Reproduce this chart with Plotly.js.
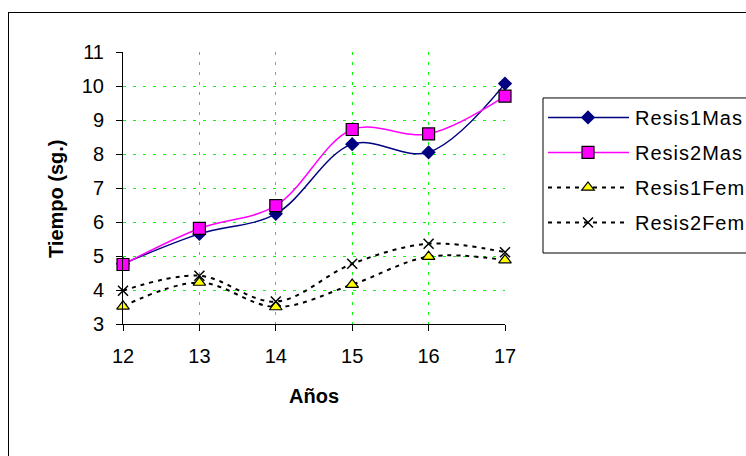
<!DOCTYPE html>
<html>
<head>
<meta charset="utf-8">
<script src="https://cdn.plot.ly/plotly-3.0.1.min.js"></script>
<style>
html,body{margin:0;padding:0;background:#fff;overflow:hidden;}
#frame{position:absolute;left:8px;top:12px;width:800px;height:600px;border:1px solid #000;box-sizing:border-box;}
#chart{position:absolute;left:0;top:0;width:820px;height:456px;}
.legendtext{letter-spacing:1px;}
</style>
</head>
<body>
<div id="frame"></div>
<div id="chart"></div>
<script>
var years = [12, 13, 14, 15, 16, 17];
var resis1Mas = [4.77, 5.65, 6.24, 8.29, 8.05, 10.07];
var resis2Mas = [4.75, 5.81, 6.48, 8.72, 8.59, 9.70];
var resis1Fem = [3.52, 4.22, 3.50, 4.16, 4.98, 4.88];
var resis2Fem = [3.98, 4.42, 3.66, 4.77, 5.36, 5.11];
var seriesNames = ['Resis1Mas', 'Resis2Mas', 'Resis1Fem', 'Resis2Fem'];
var xTitle = 'Años';
var yTitle = 'Tiempo (sg.)';

var F = 'Liberation Sans, Arial, sans-serif';
var FS = 20;
var SM = 1.0;
var traces = [
  {x: years, y: resis1Mas, name: seriesNames[0], legendgroup: 'a', mode: 'lines+markers', cliponaxis: false,
   line: {color: '#000080', width: 1.5, shape: 'spline', smoothing: SM},
   marker: {symbol: 'diamond', color: '#000080', size: 11}},
  {x: years, y: resis2Mas, name: seriesNames[1], legendgroup: 'b', mode: 'lines+markers', cliponaxis: false,
   line: {color: '#FF00FF', width: 1.5, shape: 'spline', smoothing: SM},
   marker: {symbol: 'square', color: '#FF00FF', size: 12, line: {color: '#000', width: 1.2}}},
  {x: years, y: resis1Fem, name: seriesNames[2], legendgroup: 'c', mode: 'lines+markers', cliponaxis: false,
   line: {color: '#000', width: 2, shape: 'spline', smoothing: SM, dash: '4px,5px'},
   marker: {symbol: 'triangle-up', color: '#FFFF00', size: 11, line: {color: '#000', width: 1.2}}},
  {x: years, y: resis2Fem, name: seriesNames[3], legendgroup: 'd', mode: 'lines+markers', cliponaxis: false,
   line: {color: '#000', width: 2, shape: 'spline', smoothing: SM, dash: '4px,5px'},
   marker: {symbol: 'x-thin', color: '#000', size: 10, line: {color: '#000', width: 1.5}}}
];

var layout = {
  width: 820, height: 456,
  margin: {l: 123, r: 315, t: 52, b: 132},
  paper_bgcolor: 'rgba(0,0,0,0)', plot_bgcolor: 'rgba(0,0,0,0)',
  font: {family: F, size: FS, color: '#000'},
  showlegend: true,
  legend: {x: 1.0995, y: 0.831, xanchor: 'left', yanchor: 'top',
    borderwidth: 0, bgcolor: 'rgba(0,0,0,0)',
    font: {family: F, size: FS, color: '#000'}, tracegroupgap: 6, itemwidth: 82},
  shapes: [{type: 'rect', xref: 'paper', yref: 'paper', x0: 1.0995, x1: 2, y0: 0.261, y1: 0.831,
    line: {color: '#000', width: 1}, fillcolor: '#fff', layer: 'above'}],
  xaxis: {range: [12, 17], tickvals: years, ticktext: years.map(String),
    showline: true, linecolor: '#000', linewidth: 1, ticks: 'outside', ticklen: 6, tickcolor: '#000',
    showgrid: true, gridcolor: '#00FF00', griddash: '3px,7px', gridwidth: 1, zeroline: false,
    tickfont: {family: F, size: FS}, ticklabelstandoff: 8,
    title: {text: '<b>' + xTitle + '</b>', font: {family: F, size: FS}, standoff: 22}},
  yaxis: {range: [3, 11], dtick: 1, tick0: 3,
    showline: true, linecolor: '#000', linewidth: 1, ticks: 'outside', ticklen: 6, tickcolor: '#000',
    showgrid: true, gridcolor: '#00FF00', griddash: '3px,7px', gridwidth: 1, zeroline: false,
    tickfont: {family: F, size: FS}, ticklabelstandoff: 8},
  annotations: [{text: '<b>' + yTitle + '</b>', textangle: -90, xref: 'paper', yref: 'paper',
    x: (56 - 123) / 382, y: (324 - 199) / 272, xanchor: 'center', yanchor: 'middle', showarrow: false,
    font: {family: F, size: FS, color: '#000'}}]
};

Plotly.newPlot('chart', traces, layout, {displayModeBar: false, staticPlot: true}).then(function (gd) {
  // widen legend sample lines like the original (longer line, marker centred on it)
  gd.querySelectorAll('.legend .legendlines path').forEach(function (p) { p.setAttribute('d', 'M5,0h81'); });
  gd.querySelectorAll('.legend .legendpoints path').forEach(function (p) { p.setAttribute('transform', 'translate(45,0)'); });
});
</script>
</body>
</html>
